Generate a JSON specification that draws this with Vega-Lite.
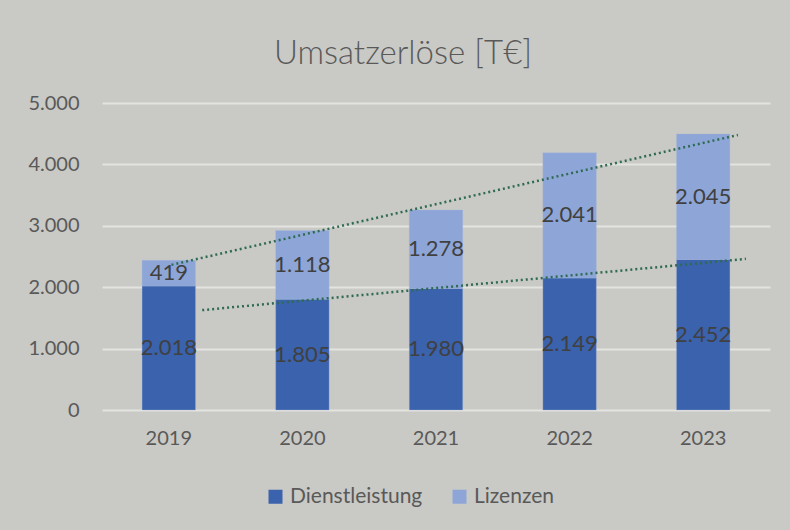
{
  "$schema": "https://vega.github.io/schema/vega-lite/v6.json",
  "autosize": "none",
  "width": 668,
  "height": 307,
  "padding": {"left": 102, "top": 103, "right": 20, "bottom": 120},
  "background": "#c9c9c5",
  "title": {
    "text": "Umsatzerlöse [T€]",
    "font": "Lato",
    "fontSize": 33,
    "fontWeight": 300,
    "color": "#595959",
    "anchor": "middle",
    "dx": -33,
    "offset": 22
  },
  "datasets": {
    "umsatz": [
      {"year": "2019", "type": "Dienstleistung", "value": 2018},
      {"year": "2019", "type": "Lizenzen", "value": 419},
      {"year": "2020", "type": "Dienstleistung", "value": 1805},
      {"year": "2020", "type": "Lizenzen", "value": 1118},
      {"year": "2021", "type": "Dienstleistung", "value": 1980},
      {"year": "2021", "type": "Lizenzen", "value": 1278},
      {"year": "2022", "type": "Dienstleistung", "value": 2149},
      {"year": "2022", "type": "Lizenzen", "value": 2041},
      {"year": "2023", "type": "Dienstleistung", "value": 2452},
      {"year": "2023", "type": "Lizenzen", "value": 2045}
    ],
    "trend": [
      {"line": "Gesamt", "x": 2019.02, "y": 2364},
      {"line": "Gesamt", "x": 2023.26, "y": 4479},
      {"line": "Dienstleistung", "x": 2019.25, "y": 1627},
      {"line": "Dienstleistung", "x": 2023.32, "y": 2462}
    ]
  },
  "layer": [
    {
      "data": {"name": "umsatz"},
      "mark": {"type": "bar", "stroke": "#a9b8dc", "strokeWidth": 0.5, "strokeOpacity": 0.6},
      "encoding": {
        "x": {
          "field": "year", "type": "ordinal",
          "scale": {"paddingInner": 0.6, "paddingOuter": 0.3},
          "axis": {
            "title": null, "labelAngle": 0, "domain": false, "ticks": false,
            "labelFont": "Lato", "labelFontSize": 20, "labelColor": "#595959",
            "labelPadding": 18
          }
        },
        "y": {
          "field": "value", "type": "quantitative", "stack": "zero",
          "scale": {"domain": [0, 5000], "nice": false},
          "axis": {
            "title": null, "format": ",.0f", "values": [0, 1000, 2000, 3000, 4000, 5000],
            "domain": false, "ticks": false, "grid": true,
            "gridColor": "#e3e3df", "gridWidth": 2,
            "labelFont": "Lato", "labelFontSize": 20, "labelColor": "#595959",
            "labelPadding": 23
          }
        },
        "color": {
          "field": "type", "type": "nominal",
          "scale": {"domain": ["Dienstleistung", "Lizenzen"], "range": ["#3a62ad", "#8ea6d7"]},
          "legend": {
            "title": null, "orient": "none", "direction": "horizontal",
            "legendX": 163, "legendY": 383,
            "symbolType": "square", "symbolSize": 196, "symbolStrokeWidth": 0,
            "labelFont": "Lato", "labelFontSize": 21, "labelColor": "#595959",
            "labelOffset": 4, "columnPadding": 26
          }
        },
        "order": {"field": "type"}
      }
    },
    {
      "data": {"name": "umsatz"},
      "transform": [
        {"stack": "value", "groupby": ["year"], "sort": [{"field": "type"}], "as": ["v0", "v1"]},
        {"calculate": "(datum.v0 + datum.v1) / 2", "as": "mid"}
      ],
      "mark": {"type": "text", "font": "Lato", "fontSize": 22, "color": "#404040", "baseline": "middle"},
      "encoding": {
        "x": {"field": "year", "type": "ordinal", "axis": null},
        "y": {"field": "mid", "type": "quantitative"},
        "text": {"field": "value", "type": "quantitative", "format": ",.0f"}
      }
    },
    {
      "data": {"name": "trend"},
      "mark": {"type": "line", "color": "#2f6b52", "strokeWidth": 2.5, "strokeDash": [2, 3]},
      "encoding": {
        "x": {"field": "x", "type": "quantitative", "scale": {"domain": [2018.5, 2023.5], "nice": false, "zero": false}, "axis": null},
        "y": {"field": "y", "type": "quantitative"},
        "detail": {"field": "line"}
      }
    }
  ],
  "resolve": {"scale": {"x": "independent"}},
  "config": {
    "view": {"stroke": null},
    "locale": {"number": {"decimal": ",", "thousands": ".", "grouping": [3], "currency": ["", " €"]}}
  }
}
